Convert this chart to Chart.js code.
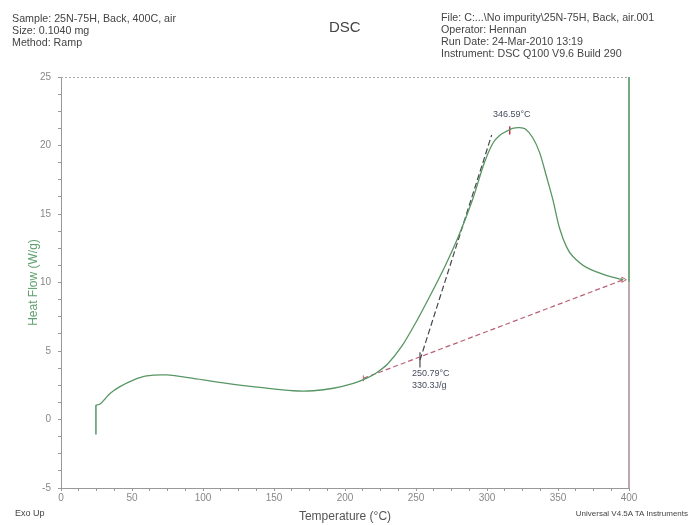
<!DOCTYPE html>
<html>
<head>
<meta charset="utf-8">
<script src="https://cdn.jsdelivr.net/npm/chart.js@4/dist/chart.umd.min.js"></script>
<style>
body { margin: 0; background: #fff; }
#wrap { position: relative; width: 690px; height: 525px; font-family: "Liberation Sans", Arial, sans-serif; color: #444; }
.t { position: absolute; font-size: 10.7px; line-height: 12px; white-space: nowrap; }
</style>
</head>
<body>
<div id="wrap">
<canvas id="c" width="690" height="525"></canvas>
<div class="t" style="left:12px;top:12px">Sample: 25N-75H, Back, 400C, air<br>Size: 0.1040 mg<br>Method: Ramp</div>
<div class="t" style="left:329px;top:19px;font-size:15px;line-height:16px">DSC</div>
<div class="t" style="left:441px;top:11px">File: C:...\No impurity\25N-75H, Back, air.001<br>Operator: Hennan<br>Run Date: 24-Mar-2010 13:19<br>Instrument: DSC Q100 V9.6 Build 290</div>
<div class="t" style="left:15px;top:507px;font-size:9px">Exo Up</div>
<div class="t" style="right:2px;top:508px;font-size:8px">Universal V4.5A TA Instruments</div>
</div>
<script>
// Messkurve (Temperatur in °C, Waermestrom in W/g)
const spikeT = [24.6, 24.6];
const spikeHF = [-1.1, 1.05];

const curveT = [24.6, 27.5, 31, 34.5, 41.5, 50.9, 60.3, 74.4, 93, 116.7, 140, 163.6, 177.7, 191.8, 205.9, 215,
    222, 230, 240, 250, 260, 270, 280, 290, 298, 304, 309, 314, 318, 323, 327, 332, 337, 342, 346.5, 351, 356,
    360.5, 370, 384.5, 396];
const curveHF = [1.05, 1.13, 1.5, 1.9, 2.4, 2.88, 3.18, 3.25, 3.0, 2.64, 2.35, 2.1, 2.1, 2.28, 2.64, 3.0,
    3.4, 4.05, 5.35, 7.1, 9.05, 11.1, 13.4, 16.1, 18.7, 20.15, 20.75, 21.05, 21.25, 21.3, 21.2, 20.6, 19.5, 17.7, 16.0,
    14.0, 12.6, 11.9, 11.1, 10.5, 10.2];

// Auswertung: Tangente, Basislinie, Peak, Onset
const tangentT = [252.8, 303.3];
const tangentHF = [4.34, 20.77];
const baseT = [212.9, 396];
const baseHF = [3.0, 10.2];
const peakT = [316, 316];
const peakHF = [20.8, 21.4];
const onsetT = [252.8, 252.8];
const onsetHF = [3.8, 4.9];

const peakLabel = '346.59°C';
const onsetLabels = ['250.79°C', '330.3J/g'];

const xTicks = [0, 50, 100, 150, 200, 250, 300, 350, 400];
const yTicks = [-5, 0, 5, 10, 15, 20, 25];

const COLOR_CURVE = 'rgb(88, 150, 100)';
const COLOR_BASE = 'rgb(185, 95, 115)';
const COLOR_TANGENT = 'rgb(70, 70, 75)';
const COLOR_TEXT = 'rgb(70, 75, 95)';

function pts(xs, ys) {
    return xs.map((x, i) => ({ x: x, y: ys[i] }));
}

const framePlugin = {
    id: 'frame',
    beforeDatasetsDraw(chart) {
        const { ctx, chartArea: a } = chart;
        ctx.save();
        ctx.strokeStyle = '#aaa';
        ctx.setLineDash([2, 2]);
        ctx.lineWidth = 1;
        ctx.beginPath();
        ctx.moveTo(a.left, a.top + 0.5);
        ctx.lineTo(a.right, a.top + 0.5);
        ctx.stroke();
        ctx.setLineDash([]);
        ctx.lineWidth = 1.5;
        const mid = chart.scales.y.getPixelForValue(10);
        ctx.strokeStyle = 'rgb(70, 140, 90)';
        ctx.beginPath();
        ctx.moveTo(a.right, a.top);
        ctx.lineTo(a.right, mid);
        ctx.stroke();
        ctx.strokeStyle = 'rgb(170, 140, 150)';
        ctx.beginPath();
        ctx.moveTo(a.right, mid);
        ctx.lineTo(a.right, a.bottom);
        ctx.stroke();
        ctx.restore();
    }
};

const labelPlugin = {
    id: 'labels',
    afterDatasetsDraw(chart) {
        const { ctx } = chart;
        const sx = chart.scales.x, sy = chart.scales.y;
        ctx.save();
        ctx.fillStyle = COLOR_TEXT;
        ctx.font = '9px "Liberation Sans", Arial, sans-serif';
        ctx.textAlign = 'center';
        ctx.textBaseline = 'middle';
        ctx.fillText(peakLabel, sx.getPixelForValue(peakT[0]) + 2, sy.getPixelForValue(peakHF[1]) - 12);
        ctx.textAlign = 'left';
        const ox = sx.getPixelForValue(onsetT[0]) - 8;
        const oy = sy.getPixelForValue(onsetHF[0]);
        ctx.fillText(onsetLabels[0], ox, oy + 6);
        ctx.fillText(onsetLabels[1], ox, oy + 18);
        ctx.restore();
    }
};

new Chart(document.getElementById('c'), {
    type: 'line',
    data: {
        datasets: [
            { data: pts(spikeT, spikeHF), borderColor: COLOR_CURVE, borderWidth: 1.5, pointRadius: 0, tension: 0 },
            { data: pts(curveT, curveHF), borderColor: COLOR_CURVE, borderWidth: 1.3, pointRadius: 0, tension: 0.3 },
            { data: pts(tangentT, tangentHF), borderColor: COLOR_TANGENT, borderWidth: 1.2, borderDash: [6, 3], pointRadius: 0 },
            {
                data: pts(baseT, baseHF), borderColor: COLOR_BASE, borderWidth: 1.2, borderDash: [5, 3],
                pointStyle: ['line', 'triangle'], rotation: [90, 90], pointRadius: [3, 3],
                pointBorderColor: COLOR_BASE, pointBackgroundColor: 'rgba(0,0,0,0)', pointBorderWidth: 1
            },
            { data: pts(peakT, peakHF), borderColor: 'rgb(200, 50, 70)', borderWidth: 1.5, pointRadius: 0 },
            { data: pts(onsetT, onsetHF), borderColor: COLOR_TANGENT, borderWidth: 1.2, pointRadius: 0 }
        ]
    },
    options: {
        responsive: false,
        animation: false,
        devicePixelRatio: 1,
        layout: { padding: { left: 0, top: 77, right: 61, bottom: 0 } },
        plugins: { legend: { display: false }, tooltip: { enabled: false } },
        scales: {
            x: {
                type: 'linear', min: 0, max: 400,
                afterFit: s => { s.height = 37; },
                border: { display: true, color: '#999', dash: [2, 2] },
                grid: { display: true, drawOnChartArea: false, drawTicks: true, tickLength: 3, color: '#999' },
                ticks: {
                    stepSize: 12.5, autoSkip: false, maxRotation: 0, padding: 1, color: '#888',
                    font: { size: 10, family: '"Liberation Sans", Arial, sans-serif' },
                    callback: v => xTicks.includes(v) ? String(v) : ''
                },
                title: {
                    display: true, text: 'Temperature (°C)', color: '#555',
                    font: { size: 12, family: '"Liberation Sans", Arial, sans-serif' },
                    padding: { top: 0, bottom: 1 }
                }
            },
            y: {
                min: -5, max: 25,
                afterFit: s => { s.width = 61; },
                border: { display: true, color: '#999', dash: [2, 2] },
                grid: { display: true, drawOnChartArea: false, drawTicks: true, tickLength: 3, color: '#999' },
                ticks: {
                    stepSize: 1.25, autoSkip: false, padding: 7, color: '#888',
                    font: { size: 10, family: '"Liberation Sans", Arial, sans-serif' },
                    callback: v => yTicks.includes(v) ? String(v) : ''
                },
                title: {
                    display: true, text: 'Heat Flow (W/g)', color: 'rgb(95, 160, 110)',
                    font: { size: 12, family: '"Liberation Sans", Arial, sans-serif' },
                    padding: { top: 26, bottom: 0 }
                }
            }
        }
    },
    plugins: [framePlugin, labelPlugin]
});
</script>
</body>
</html>
